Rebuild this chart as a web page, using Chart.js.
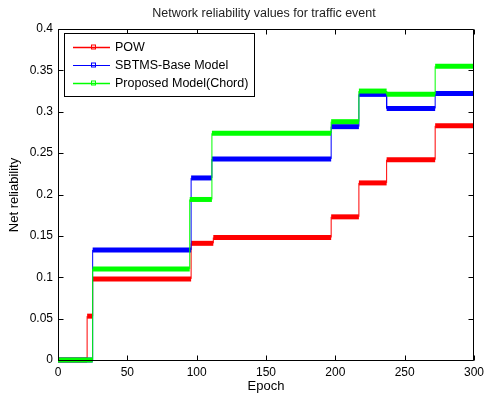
<!DOCTYPE html>
<html>
<head>
<meta charset="utf-8">
<script src="https://cdn.jsdelivr.net/npm/chart.js@4/dist/chart.umd.min.js"></script>
<style>
  body { margin: 0; background: #fff; }
</style>
</head>
<body>
<canvas id="c" width="489" height="398"></canvas>
<script>
// Tick labels
const epochTicks = [0, 50, 100, 150, 200, 250, 300];
const reliabilityTicks = [0, 0.05, 0.1, 0.15, 0.2, 0.25, 0.3, 0.35, 0.4];

// Series names
const seriesNames = ['POW', 'SBTMS-Base Model', 'Proposed Model(Chord)'];

// Step edges (epoch) and level held between consecutive edges
const powEdges = [0, 21, 25, 96, 112, 197, 217, 237, 272, 300];
const powLevels = [0, 0.053, 0.098, 0.141, 0.148, 0.173, 0.214, 0.242, 0.283];

const sbtmsEdges = [0, 25, 96, 111, 197, 217, 237, 272, 300];
const sbtmsLevels = [0, 0.133, 0.220, 0.243, 0.282, 0.321, 0.304, 0.322];

const chordEdges = [0, 25, 95, 111, 197, 217, 237, 272, 300];
const chordLevels = [0, 0.110, 0.194, 0.274, 0.288, 0.325, 0.321, 0.355];

const colors = ['#ff0000', '#0000ff', '#00ff00'];

// each level becomes a start point and an end point
function toPoints(edges, levels) {
  const pts = [];
  levels.forEach((v, i) => {
    pts.push({ x: edges[i], y: v });
    pts.push({ x: edges[i + 1], y: v });
  });
  return pts;
}

function makeDataset(label, edges, levels, color, order) {
  return {
    label,
    data: toPoints(edges, levels),
    borderColor: color,
    backgroundColor: color,
    borderWidth: 1,
    pointRadius: 0,
    clip: false,
    order,
    segment: {
      // thick band where the level is held, thin line on the jumps
      borderWidth: ctx => ctx.p0.parsed.y === ctx.p1.parsed.y ? 5 : 1
    }
  };
}

const FONT = '"Liberation Sans", Arial, sans-serif';

// Title, inner ticks, box and legend drawn MATLAB-style
const matlabFrame = {
  id: 'matlabFrame',
  afterDraw(chart) {
    const { ctx, chartArea: a, scales } = chart;
    const L = Math.round(a.left) + 0.5, R = Math.round(a.right) - 0.5;
    const T = Math.round(a.top) + 0.5, B = Math.round(a.bottom) + 0.5;
    ctx.save();
    ctx.strokeStyle = '#000';
    ctx.lineWidth = 1;
    ctx.beginPath();
    ctx.moveTo(L, T); ctx.lineTo(R, T); ctx.lineTo(R, B); ctx.lineTo(L, B); ctx.closePath();
    epochTicks.forEach(t => {
      const px = Math.round(scales.x.getPixelForValue(t)) + 0.5;
      ctx.moveTo(px, B); ctx.lineTo(px, B - 5);
      ctx.moveTo(px, T); ctx.lineTo(px, T + 5);
    });
    reliabilityTicks.forEach(t => {
      const py = Math.round(scales.y.getPixelForValue(t)) + 0.5;
      ctx.moveTo(L, py); ctx.lineTo(L + 5, py);
      ctx.moveTo(R, py); ctx.lineTo(R - 5, py);
    });
    ctx.stroke();

    // title and axis labels
    ctx.fillStyle = '#222';
    ctx.textAlign = 'center';
    ctx.textBaseline = 'middle';
    ctx.font = '12.5px ' + FONT;
    ctx.fillText('Network reliability values for traffic event', 264, 14);
    ctx.fillStyle = '#000';
    ctx.font = '13px ' + FONT;
    ctx.fillText('Epoch', (a.left + a.right) / 2, 386);
    ctx.save();
    ctx.translate(14, 195);
    ctx.rotate(-Math.PI / 2);
    ctx.fillText('Net reliability', 0, 0);
    ctx.restore();

    // legend
    const lx = 64, ly = 33, lw = 190, lh = 63;
    ctx.fillStyle = '#fff';
    ctx.fillRect(lx, ly, lw, lh);
    ctx.strokeStyle = '#000';
    ctx.strokeRect(lx + 0.5, ly + 0.5, lw, lh);
    ctx.font = '12.5px ' + FONT;
    ctx.textAlign = 'left';
    seriesNames.forEach((name, i) => {
      const y = ly + 14 + i * 18;
      ctx.strokeStyle = colors[i];
      ctx.lineWidth = i === 1 ? 1 : 1.5;
      ctx.beginPath();
      ctx.moveTo(73, y + 0.5); ctx.lineTo(110, y + 0.5);
      ctx.stroke();
      ctx.lineWidth = 1;
      ctx.strokeRect(91.5, y - 2, 4, 4);
      ctx.fillStyle = '#000';
      ctx.fillText(name, 115, y + 1);
    });
    ctx.restore();
  }
};

new Chart(document.getElementById('c'), {
  type: 'line',
  data: {
    datasets: [
      makeDataset(seriesNames[0], powEdges, powLevels, colors[0], 3),
      makeDataset(seriesNames[1], sbtmsEdges, sbtmsLevels, colors[1], 2),
      makeDataset(seriesNames[2], chordEdges, chordLevels, colors[2], 1)
    ]
  },
  options: {
    responsive: false,
    animation: false,
    layout: { padding: { top: 29, right: 10, left: 0, bottom: 0 } },
    plugins: {
      legend: { display: false },
      title: { display: false },
      tooltip: { enabled: false }
    },
    scales: {
      x: {
        type: 'linear',
        min: 0,
        max: 300,
        afterBuildTicks: s => { s.ticks = epochTicks.map(v => ({ value: v })); },
        afterFit: s => { s.height = 38; },
        grid: { display: false, drawTicks: false },
        border: { display: false },
        ticks: {
          padding: 5,
          color: '#000',
          maxRotation: 0,
          font: { family: FONT, size: 12 }
        }
      },
      y: {
        min: 0,
        max: 0.4,
        afterBuildTicks: s => { s.ticks = reliabilityTicks.map(v => ({ value: v })); },
        afterFit: s => { s.width = 58; },
        grid: { display: false, drawTicks: false },
        border: { display: false },
        ticks: {
          padding: 5,
          color: '#000',
          callback: v => String(+v.toFixed(2)),
          font: { family: FONT, size: 12 }
        }
      }
    }
  },
  plugins: [matlabFrame]
});
</script>
</body>
</html>
